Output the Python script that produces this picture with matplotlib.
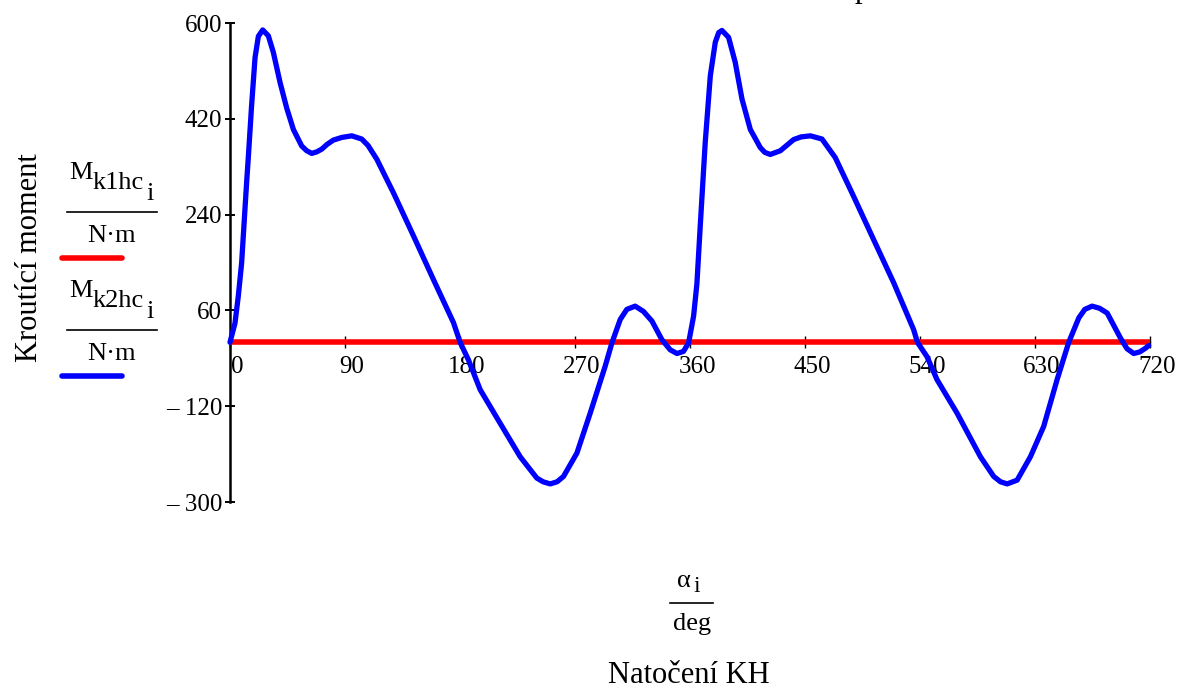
import matplotlib
matplotlib.use("Agg")
import matplotlib.pyplot as plt
from matplotlib.lines import Line2D
from matplotlib.transforms import ScaledTranslation

plt.rcParams['font.family'] = ['Liberation Serif', 'DejaVu Serif']

# crank angle [deg] and torque of the second cylinder group [N.m]
alpha = [0, 3.9, 6.5, 9.1, 11.7, 13, 14.4, 16.9, 19.6, 22.2, 25.6, 30, 33.9,
         39.2, 44.4, 49.6, 56.1, 60, 64, 68, 71.8, 76, 80.9, 87.5, 95.3,
         103.1, 108, 114.9, 127.9, 143.6, 159.2, 174.9, 180.1, 186.6, 195.8,
         211.4, 227.1, 240.1, 245, 250.6, 256, 261, 271.5, 281.9, 293.6,
         298.9, 305.4, 310.6, 317.1, 323.6, 330.2, 338, 344.5, 349.8, 354.9,
         358.9, 362.8, 365.4, 368, 371.9, 375.9, 379.8, 382.5, 385, 390.2,
         395.4, 400.7, 407.2, 415, 418.5, 422.8, 430.7, 441.1, 447, 454.2,
         463.3, 473.7, 488.1, 503.7, 519.4, 535, 538, 545.5, 553.3, 569,
         587.3, 597.7, 603, 608.2, 616, 626.4, 636.8, 647.3, 656.4, 664.3,
         669, 674.7, 680.5, 686.5, 696.9, 702, 707.3, 712, 716.5, 719]
m_k2hc = [0, 36, 87, 149, 250, 300, 350, 445, 535, 575, 587, 576, 545,
          488, 440, 400, 369, 360, 355, 358, 363, 372, 380, 385, 388,
          382, 370, 344, 281, 200, 118, 37, 0, -33, -89,
          -152, -215, -255, -262, -266, -262, -252, -208, -133, -45,
          -1, 43, 62, 68, 58, 40, 5, -14, -21, -17,
          -1, 49, 110, 218, 375, 501, 564, 582, 586, 573,
          526, 457, 400, 366, 357, 353, 360, 381, 386, 388,
          382, 347, 274, 193, 112, 24, 0, -27, -70, -133,
          -215, -252, -262, -266, -259, -215, -158, -70, 0, 46,
          62, 68, 64, 55, 8, -12, -21, -18, -11, -6]

# first group torque is zero over the whole range
alpha_1 = [0, 720]
m_k1hc = [0, 0]

x_ticks = [0, 90, 180, 270, 360, 450, 540, 630, 720]
y_ticks = [600, 420, 240, 60, -120, -300]
y_tick_labels = ['600', '420', '240', '60', '\u2013 120', '\u2013 300']

W, H = 1179, 689
fig = plt.figure(figsize=(W / 100, H / 100), dpi=100)


def fx(px):
    return px / W


def fy(py):
    return 1 - py / H


ax = fig.add_axes([fx(230), fy(502), fx(920), (502 - 23) / H])
ax.set_xlim(0, 720)
ax.set_ylim(-300, 600)

for s in ['top', 'right']:
    ax.spines[s].set_visible(False)
ax.spines['bottom'].set_position(('data', 0))
ax.spines['left'].set_linewidth(1.8)
ax.spines['bottom'].set_linewidth(1.0)

ax.set_xticks(x_ticks)
ax.set_xticklabels([str(v) for v in x_ticks])
ax.set_yticks(y_ticks)
ax.set_yticklabels(y_tick_labels)
ax.tick_params(axis='x', direction='inout', length=9, width=1.0, pad=5,
               labelsize=18)
ax.tick_params(axis='y', direction='inout', length=7, width=1.4, pad=2,
               labelsize=18)
for lab in ax.get_xticklabels():
    lab.set_transform(lab.get_transform() +
                      ScaledTranslation(0.07, 0, fig.dpi_scale_trans))

ax.plot(alpha_1, m_k1hc, color='#ff0000', lw=4, solid_capstyle='butt',
        zorder=3, clip_on=False)
ax.plot(alpha, m_k2hc, color='#0000ff', lw=3.8, solid_capstyle='round',
        solid_joinstyle='round', zorder=4, clip_on=False)

# y label
fig.text(fx(30), fy(258), 'Kroutící moment', rotation=90, fontsize=22,
         ha='center', va='center')

# legend-like fractions on the left
fs = 19
for dy, sub, col in [(0, 'k1hc', '#ff0000'), (118, 'k2hc', '#0000ff')]:
    fig.text(fx(69), fy(179 + dy), 'M', fontsize=fs, ha='left', va='baseline')
    fig.text(fx(93), fy(189 + dy), sub, fontsize=fs, ha='left', va='baseline')
    fig.text(fx(146), fy(200 + dy), 'i', fontsize=fs, ha='left', va='baseline')
    fig.add_artist(Line2D([fx(67), fx(157)], [fy(212 + dy), fy(212 + dy)],
                          color='black', lw=1.2))
    fig.text(fx(112), fy(242 + dy), 'N\u00b7m', fontsize=fs, ha='center',
             va='baseline')
    fig.add_artist(Line2D([fx(62), fx(122)], [fy(258 + dy), fy(258 + dy)],
                          color=col, lw=4, solid_capstyle='round'))

# x label fraction
fig.text(fx(677), fy(587), '\u03b1', fontsize=fs, ha='left', va='baseline')
fig.text(fx(694), fy(592), 'i', fontsize=fs - 2, ha='left', va='baseline')
fig.add_artist(Line2D([fx(670), fx(713)], [fy(603), fy(603)],
                      color='black', lw=1.2))
fig.text(fx(692), fy(630), 'deg', fontsize=fs, ha='center', va='baseline')
fig.text(fx(689), fy(683), 'Natočení KH', fontsize=22, ha='center',
         va='baseline')

# descender of a title that is cut off at the top
fig.text(fx(862), fy(-3), 'p', fontsize=22, ha='center', va='baseline')

fig.savefig('out.png', dpi=100)
